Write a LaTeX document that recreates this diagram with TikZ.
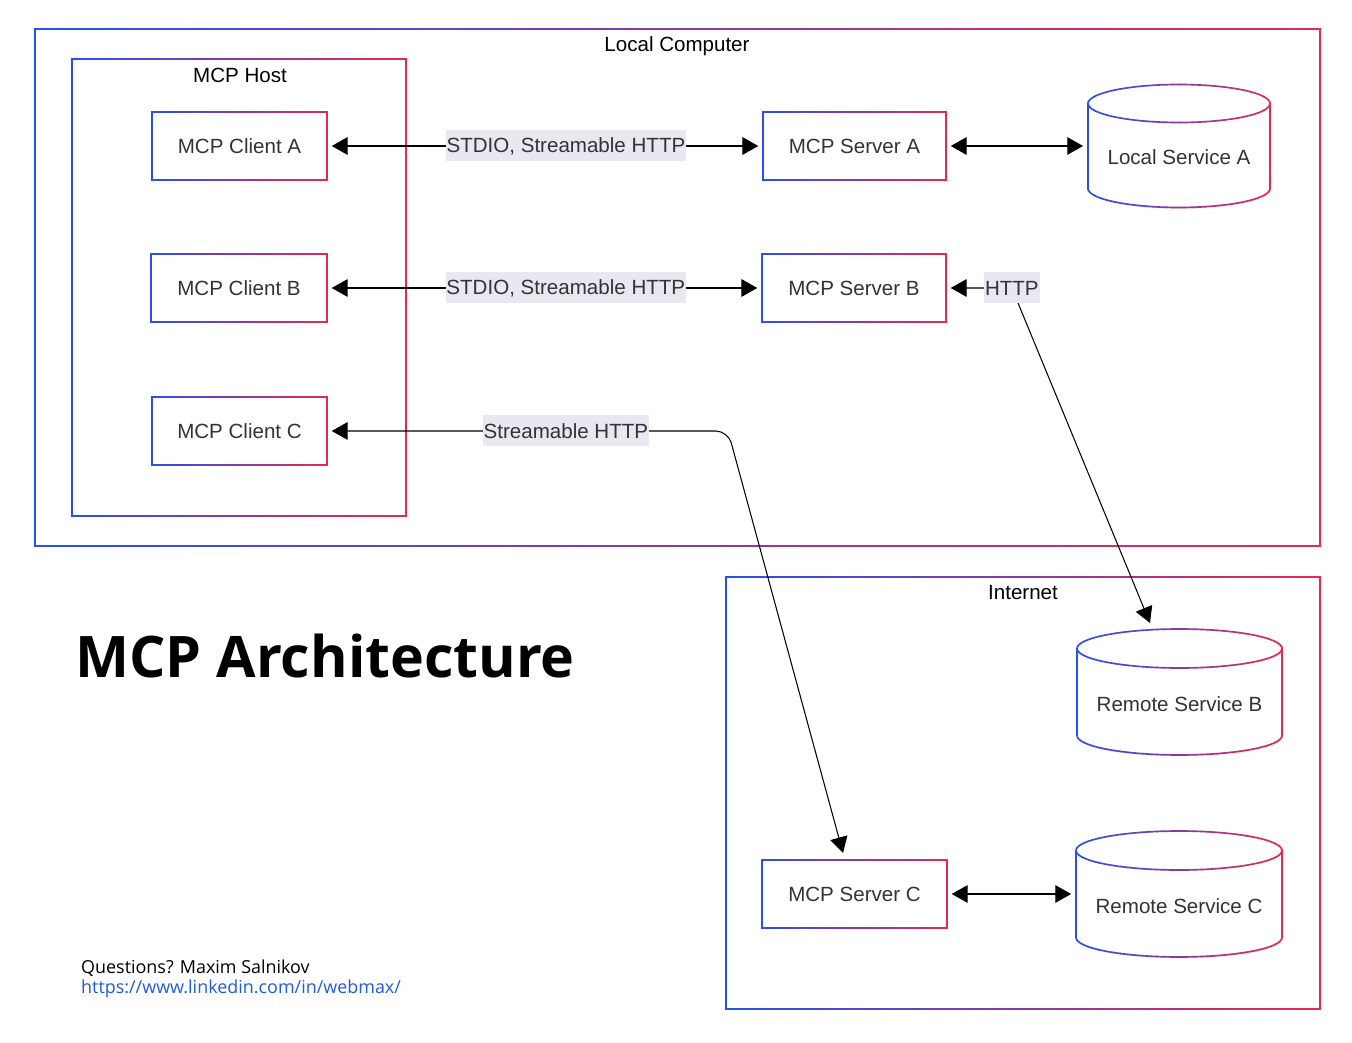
\documentclass[tikz,border=0pt]{standalone}
\usepackage{fontspec}
\setmainfont{Liberation Sans}
\newfontfamily\opensans{Open Sans}
\usetikzlibrary{positioning, arrows.meta, shadows, calc}

\definecolor{gblue}{RGB}{40,80,240}
\definecolor{gred}{RGB}{232,40,80}
\definecolor{txtgray}{RGB}{51,51,51}
\definecolor{lblbg}{RGB}{232,232,241}
\definecolor{linkblue}{RGB}{30,90,230}

\tikzset{
	shadowed/.style={drop shadow={opacity=0.12, shadow xshift=0.5pt, shadow yshift=-0.9pt}},
	frame/.style={rectangle, inner sep=0pt, outer sep=0pt},
	box/.style={rectangle, fill=white, shadowed, text=txtgray, minimum height=1.34cm, font=\fontsize{11.7}{14}\selectfont},
	cyl/.style={rectangle, inner sep=0pt, outer sep=0pt},
	txt/.style={text=txtgray, font=\fontsize{11.7}{14}\selectfont},
	frametxt/.style={font=\fontsize{11.7}{14}\selectfont},
	elbl/.style={fill=lblbg, text=txtgray, sharp corners, inner xsep=0.5pt, minimum height=0.62cm, font=\fontsize{11.7}{14}\selectfont},
	arr/.style={{Triangle[length=9pt,width=10pt]}-{Triangle[length=9pt,width=10pt]}, line width=0.6pt, shorten <=2.8pt, shorten >=2.8pt}
}

% stroke a path with a blue to red gradient across the width of a node
\newcommand{\gradstroke}[2]{%
	\foreach \k in {0,...,29} {
		\pgfmathsetmacro{\mix}{100-\k*100/29}
		\begin{scope}
			\clip let \p1=([shift={(-4pt,-4pt)}]#1.south west), \p2=([shift={(4pt,4pt)}]#1.north east) in
				({\x1+(\x2-\x1)/30*\k}, \y1) rectangle ({\x1+(\x2-\x1)/30*(\k+1)+0.3pt}, \y2);
			\draw[draw=gblue!\mix!gred, line width=0.95pt] #2;
		\end{scope}}%
}
\newcommand{\gradrect}[1]{\gradstroke{#1}{(#1.south west) rectangle (#1.north east)}}

% cylinder outline and front arc round a named node: name, x radius, y radius
\newcommand{\cylout}[3]{([yshift=-#3]#1.north west) -- ([yshift=#3]#1.south west)
	arc[start angle=180, end angle=360, x radius=#2, y radius=#3] -- ([yshift=-#3]#1.north east)
	arc[start angle=0, end angle=180, x radius=#2, y radius=#3] -- cycle}
\newcommand{\cylarc}[3]{([yshift=-#3]#1.north west) arc[start angle=180, end angle=360, x radius=#2, y radius=#3]}
\newcommand{\cylpath}[3]{%
	\path[fill=white, shadowed] \cylout{#1}{#2}{#3};
	\gradstroke{#1}{\cylout{#1}{#2}{#3}}
	\gradstroke{#1}{\cylarc{#1}{#2}{#3}}
}

\begin{document}
\begin{tikzpicture}[x=0.02cm, y=0.02cm]
	\useasboundingbox (0,0) rectangle (1352,1042);

	% frames
	\node[frame, minimum width=25.7cm, minimum height=10.34cm] (local) at (677.5,754.5) {};
	\gradrect{local}
	\node[frametxt] (localtxt) at (677,996) {Local Computer};
	\node[frame, minimum width=6.68cm, minimum height=9.14cm] (host) at (239,754.5) {};
	\gradrect{host}
	\node[frametxt] (hosttxt) at (240,967) {MCP Host};
	\node[frame, minimum width=11.88cm, minimum height=8.64cm] (inet) at (1023,249) {};
	\gradrect{inet}
	\node[frametxt] (inettxt) at (1023,449) {Internet};

	% clients
	\node[box, minimum width=3.48cm] (clA) at (239.5,896) {MCP Client A};
	\node[box, minimum width=3.5cm] (clB) at (239,754) {MCP Client B};
	\node[box, minimum width=3.48cm] (clC) at (239.5,611) {MCP Client C};
	\gradrect{clA}
	\gradrect{clB}
	\gradrect{clC}

	% servers
	\node[box, minimum width=3.64cm] (srvA) at (854.5,896) {MCP Server A};
	\node[box, minimum width=3.66cm] (srvB) at (854,754) {MCP Server B};
	\node[box, minimum width=3.68cm] (srvC) at (854.5,148) {MCP Server C};
	\gradrect{srvA}
	\gradrect{srvB}
	\gradrect{srvC}

	% services
	\node[cyl, minimum width=3.64cm, minimum height=2.46cm] (lsa) at (1179,896) {};
	\cylpath{lsa}{1.82cm}{0.38cm}
	\node[txt] (lsatxt) at ([yshift=-0.22cm]lsa.center) {Local Service A};
	\node[cyl, minimum width=4.1cm, minimum height=2.52cm] (rsb) at (1179.5,350) {};
	\cylpath{rsb}{2.05cm}{0.39cm}
	\node[txt] (rsbtxt) at ([yshift=-0.24cm]rsb.center) {Remote Service B};
	\node[cyl, minimum width=4.12cm, minimum height=2.52cm] (rsc) at (1179,148) {};
	\cylpath{rsc}{2.06cm}{0.39cm}
	\node[txt] (rsctxt) at ([yshift=-0.24cm]rsc.center) {Remote Service C};

	% connectors
	\coordinate (rsbtip) at (1150,419);
	\coordinate (ccbend) at (728,611);
	\coordinate (sctip) at (843,189);
	\draw[arr] (clA) -- node[elbl, pos=0.548] {STDIO, Streamable HTTP} (srvA);
	\draw[arr] (clB) -- node[elbl, pos=0.549] {STDIO, Streamable HTTP} (srvB);
	\draw[arr] (srvA) -- (lsa);
	\draw[arr, shorten >=0pt] (srvB.east) -- ++(66,0) node[elbl] {HTTP} -- (rsbtip);
	\draw[arr, shorten >=0pt, rounded corners=7pt] (clC.east) -- node[elbl, pos=0.596] {Streamable HTTP} (ccbend) -- (sctip);
	\draw[arr] (srvC) -- (rsc);

	% title and footer
	\node[anchor=west, font=\opensans\bfseries\fontsize{32.6}{36}\selectfont] (title) at (69,386) {MCP Architecture};
	\node[anchor=west, font=\opensans\fontsize{10.2}{12}\selectfont] (quest) at (75,74) {Questions? Maxim Salnikov};
	\node[anchor=west, font=\opensans\fontsize{10.2}{12}\selectfont, text=linkblue] (link) at (75,53) {https://www.linkedin.com/in/webmax/};
\end{tikzpicture}
\end{document}
